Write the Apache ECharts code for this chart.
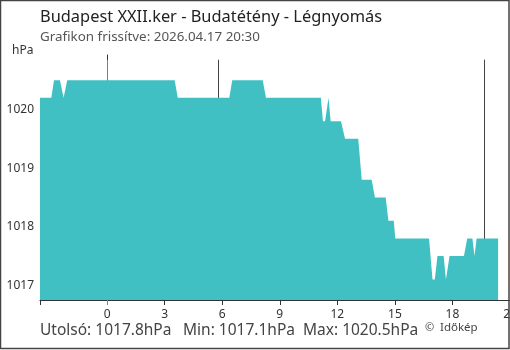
<!DOCTYPE html>
<html>
<head>
<meta charset="utf-8">
<script src="https://cdn.jsdelivr.net/npm/echarts@6/dist/echarts.min.js"></script>
<style>
  html, body { margin: 0; padding: 0; background: #fff; }
  #chart { width: 510px; height: 350px; }
</style>
</head>
<body>
<div id="chart"></div>
<script>
// hours relative to today's midnight
var hours = [
  -3.5, -2.91, -2.77, -2.46, -2.27, -2.08, 3.52, 3.68, 6.37, 6.52,
  8.11, 8.28, 11.14, 11.25, 11.36, 11.54, 11.65, 12.19, 12.40, 13.09,
  13.27, 13.79, 13.96, 14.52, 14.66, 14.94, 15.02, 16.78, 16.96, 17.08,
  17.22, 17.54, 17.66, 17.72, 17.85, 18.60, 18.77, 19.04, 19.15, 19.26,
  20.38
];
var pressure = [
  1020.2, 1020.2, 1020.5, 1020.5, 1020.2, 1020.5, 1020.5, 1020.2, 1020.2, 1020.5,
  1020.5, 1020.2, 1020.2, 1019.8, 1019.8, 1020.2, 1019.8, 1019.8, 1019.5, 1019.5,
  1018.8, 1018.8, 1018.5, 1018.5, 1018.1, 1018.1, 1017.8, 1017.8, 1017.1, 1017.1,
  1017.5, 1017.5, 1017.1, 1017.1, 1017.5, 1017.5, 1017.8, 1017.8, 1017.5, 1017.8,
  1017.8
];
var xTicks = [-3.5, 3, 6, 9, 12, 15, 18, 21];
var xLabels = [0, 3, 6, 9, 12, 15, 18, 21];
var yLabels = [1017, 1018, 1019, 1020];
var midnightHours = [0];
var sunHours = [5.8, 19.65];   // sunrise, sunset

var fontFamily = '"Noto Sans", sans-serif';
var yMin = 1016.75, yMax = 1020.93;
var blue = '#3a8fd6';

var chart = echarts.init(document.getElementById('chart'));

var seriesData = hours.map(function (h, i) { return [h, pressure[i]]; });

function vLines(list) {
  return list.map(function (h) {
    return [{ coord: [h, yMin] }, { coord: [h, 1020.85] }];
  });
}

function markerSeries(list, color) {
  // only carries vertical marker lines, drawn below the area
  return {
    type: 'line',
    z: 1,
    data: seriesData,
    showSymbol: false,
    lineStyle: { opacity: 0 },
    markLine: {
      z: 1,
      silent: true,
      symbol: ['none', 'none'],
      label: { show: false },
      lineStyle: { color: color, type: 'solid', width: 1 },
      data: vLines(list)
    }
  };
}

var option = {
  animation: false,
  grid: { left: 40, right: 0, top: 55, bottom: 50, outerBoundsMode: 'none', containLabel: false },
  xAxis: [
    {
      type: 'value',
      min: -3.5,
      max: 21,
      splitLine: { show: false },
      axisLine: { lineStyle: { color: '#333', width: 1 } },
      axisTick: { show: true, length: 5, customValues: xTicks, lineStyle: { color: '#333' } },
      axisLabel: {
        customValues: xLabels, color: '#333', fontSize: 12, margin: 9, fontFamily: fontFamily,
        hideOverlap: false, showMaxLabel: true,
        formatter: function (v) { return String(v); }
      }
    },
    {
      type: 'value',
      min: -3.5,
      max: 21,
      position: 'bottom',
      splitLine: { show: false },
      axisLine: { show: false },
      axisTick: { show: true, length: 5, customValues: midnightHours, lineStyle: { color: blue } },
      axisLabel: { show: false }
    }
  ],
  yAxis: {
    type: 'value',
    min: yMin,
    max: yMax,
    splitLine: { show: false },
    axisLine: { show: true, lineStyle: { color: '#333', width: 1 } },
    axisTick: { show: true, length: 5, customValues: yLabels, lineStyle: { color: '#333' } },
    axisLabel: {
      customValues: yLabels, color: '#333', fontSize: 12, margin: 6, fontFamily: fontFamily,
      formatter: function (v) { return String(v); }
    }
  },
  series: [
    markerSeries(midnightHours, blue),
    markerSeries(sunHours, '#444'),
    {
      type: 'line',
      z: 3,
      data: seriesData,
      showSymbol: false,
      lineStyle: { width: 0 },
      areaStyle: { color: '#40c0c2', opacity: 1, origin: 'start' }
    }
  ],
  graphic: [
    { type: 'text', left: 40, top: 9, style: { text: 'Budapest XXII.ker - Budatétény - Légnyomás', fill: '#222', font: '16.4px ' + fontFamily } },
    { type: 'text', left: 40, top: 31, style: { text: 'Grafikon frissítve: 2026.04.17 20:30', fill: '#555', font: '13.4px ' + fontFamily } },
    { type: 'text', left: 12, top: 45, style: { text: 'hPa', fill: '#333', font: '12px ' + fontFamily } },
    { type: 'text', left: 40, top: 323, style: { text: 'Utolsó: 1017.8hPa', fill: '#444', font: '15.5px ' + fontFamily } },
    { type: 'text', left: 183, top: 323, style: { text: 'Min: 1017.1hPa', fill: '#444', font: '15.5px ' + fontFamily } },
    { type: 'text', left: 303, top: 323, style: { text: 'Max: 1020.5hPa', fill: '#444', font: '15.5px ' + fontFamily } },
    { type: 'text', left: 425, top: 322, style: { text: '©', fill: '#444', font: '11px ' + fontFamily } },
    { type: 'text', left: 440, top: 322, style: { text: 'Időkép', fill: '#444', font: '11.5px ' + fontFamily } },
    { type: 'rect', z: 100, shape: { x: 0.5, y: 0.5, width: 508.5, height: 348 }, style: { fill: 'none', stroke: '#444', lineWidth: 1.5 } }
  ]
};

chart.setOption(option);
</script>
</body>
</html>
